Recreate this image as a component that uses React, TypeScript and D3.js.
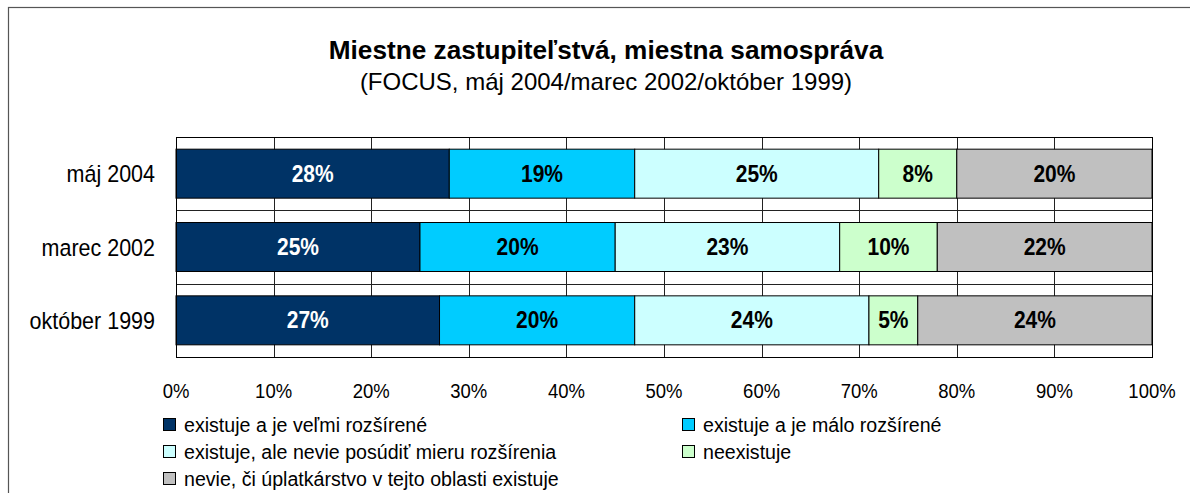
import * as d3 from "d3";
import { useEffect, useRef } from "react";

// data
const categories = ["máj 2004", "marec 2002", "október 1999"];
const seriesNames = [
  "existuje a je veľmi rozšírené",
  "existuje a je málo rozšírené",
  "existuje, ale nevie posúdiť mieru rozšírenia",
  "neexistuje",
  "nevie, či úplatkárstvo v tejto oblasti existuje",
];
const veryWide = [28, 25, 27];
const littleWide = [19, 20, 20];
const cantTell = [25, 23, 24];
const notExist = [8, 10, 5];
const dontKnow = [20, 22, 24];
const xTicks = [0, 10, 20, 30, 40, 50, 60, 70, 80, 90, 100];

const colors = ["#003366", "#00CCFF", "#CCFFFF", "#CCFFCC", "#C0C0C0"];
const labelColors = ["#ffffff", "#000000", "#000000", "#000000", "#000000"];

const FONT = "'Liberation Sans', Arial, sans-serif";

const App = () => {
  const ref = useRef<SVGSVGElement>(null);

  const W = 1190;
  const H = 493;
  const margin = { top: 137, left: 176, right: W - 1152, bottom: H - 357 };

  useEffect(() => {
    const svg = d3.select(ref.current);
    svg.selectAll("*").remove();

    svg.append("rect").attr("width", W).attr("height", H).attr("fill", "#fff");

    // outer frame
    svg
      .append("rect")
      .attr("x", 8.5)
      .attr("y", 7.5)
      .attr("width", 1300)
      .attr("height", 700)
      .attr("fill", "none")
      .attr("stroke", "#555")
      .attr("stroke-width", 1.2);

    // title
    svg
      .append("text")
      .attr("x", 606)
      .attr("y", 59)
      .attr("text-anchor", "middle")
      .style("font-family", FONT)
      .style("font-weight", "bold")
      .style("font-size", "26.2px")
      .text("Miestne zastupiteľstvá, miestna samospráva");
    svg
      .append("text")
      .attr("x", 606)
      .attr("y", 90)
      .attr("text-anchor", "middle")
      .style("font-family", FONT)
      .style("font-size", "24px")
      .text("(FOCUS, máj 2004/marec 2002/október 1999)");

    const x = d3.scaleLinear().domain([0, 100]).range([margin.left, W - margin.right]);
    const y = d3
      .scaleBand()
      .domain(categories)
      .range([margin.top, H - margin.bottom])
      .paddingInner(0.332)
      .paddingOuter(0.166);

    const series = [veryWide, littleWide, cantTell, notExist, dontKnow];
    const rows = categories.map((c, i) => {
      const r: any = { cat: c };
      series.forEach((s, k) => (r["s" + k] = s[i]));
      return r;
    });
    const stack = d3.stack().keys(series.map((_, k) => "s" + k))(rows);

    const g = svg.append("g");

    // gridlines
    g.selectAll(".vg")
      .data(xTicks)
      .enter()
      .append("line")
      .attr("x1", (d) => Math.round(x(d)) + 0.5)
      .attr("x2", (d) => Math.round(x(d)) + 0.5)
      .attr("y1", margin.top)
      .attr("y2", H - margin.bottom)
      .attr("stroke", "#222")
      .attr("stroke-width", 1);
    g.selectAll(".hg")
      .data(categories.slice(1))
      .enter()
      .append("line")
      .attr("x1", margin.left)
      .attr("x2", W - margin.right)
      .attr("y1", (d) => Math.round(y(d)! - (y.step() - y.bandwidth()) / 2) + 0.5)
      .attr("y2", (d) => Math.round(y(d)! - (y.step() - y.bandwidth()) / 2) + 0.5)
      .attr("stroke", "#222")
      .attr("stroke-width", 1);

    // bars
    stack.forEach((layer, k) => {
      g.selectAll(".bar" + k)
        .data(layer)
        .enter()
        .append("rect")
        .attr("x", (d) => x(d[0]))
        .attr("y", (d: any) => y(d.data.cat)!)
        .attr("width", (d) => x(d[1]) - x(d[0]))
        .attr("height", y.bandwidth())
        .attr("fill", colors[k])
        .attr("stroke", "#000")
        .attr("stroke-width", 1);

      // labels, slightly stretched up like the original
      g.selectAll(".lbl" + k)
        .data(layer)
        .enter()
        .append("text")
        .attr(
          "transform",
          (d: any) =>
            `translate(${(x(d[0]) + x(d[1])) / 2},${y(d.data.cat)! + y.bandwidth() / 2 + 8}) scale(1,1.12)`
        )
        .attr("text-anchor", "middle")
        .style("font-family", FONT)
        .style("font-weight", "bold")
        .style("font-size", "21px")
        .attr("fill", labelColors[k])
        .text((d) => d[1] - d[0] + "%");
    });

    // plot border
    g.append("rect")
      .attr("x", margin.left + 0.5)
      .attr("y", margin.top + 0.5)
      .attr("width", W - margin.left - margin.right)
      .attr("height", H - margin.top - margin.bottom)
      .attr("fill", "none")
      .attr("stroke", "#000")
      .attr("stroke-width", 1);

    // category labels
    g.selectAll(".cat")
      .data(categories)
      .enter()
      .append("text")
      .attr("transform", (d) => `translate(155,${y(d)! + y.bandwidth() / 2 + 8.5}) scale(1,1.08)`)
      .attr("text-anchor", "end")
      .style("font-family", FONT)
      .style("font-size", "21.5px")
      .text((d) => d);

    // x axis labels
    g.selectAll(".xt")
      .data(xTicks)
      .enter()
      .append("text")
      .attr("transform", (d) => `translate(${x(d)},398) scale(1,1.1)`)
      .attr("text-anchor", "middle")
      .style("font-family", FONT)
      .style("font-size", "18.5px")
      .text((d) => d + "%");

    // legend
    const legendPos = [
      [163, 432],
      [682, 432],
      [163, 459],
      [682, 459],
      [163, 486],
    ];
    seriesNames.forEach((name, k) => {
      const [lx, ly] = legendPos[k];
      svg
        .append("rect")
        .attr("x", lx + 0.5)
        .attr("y", ly - 13.5)
        .attr("width", 12)
        .attr("height", 12)
        .attr("fill", colors[k])
        .attr("stroke", "#000")
        .attr("stroke-width", 1);
      svg
        .append("text")
        .attr("x", lx + 21)
        .attr("y", ly)
        .style("font-family", FONT)
        .style("font-size", "19.6px")
        .text(name);
    });
  }, []);

  return (
    <svg
      ref={ref}
      width={W}
      height={H}
      style={{ position: "absolute", left: 0, top: 0 }}
    ></svg>
  );
};

export default App;
